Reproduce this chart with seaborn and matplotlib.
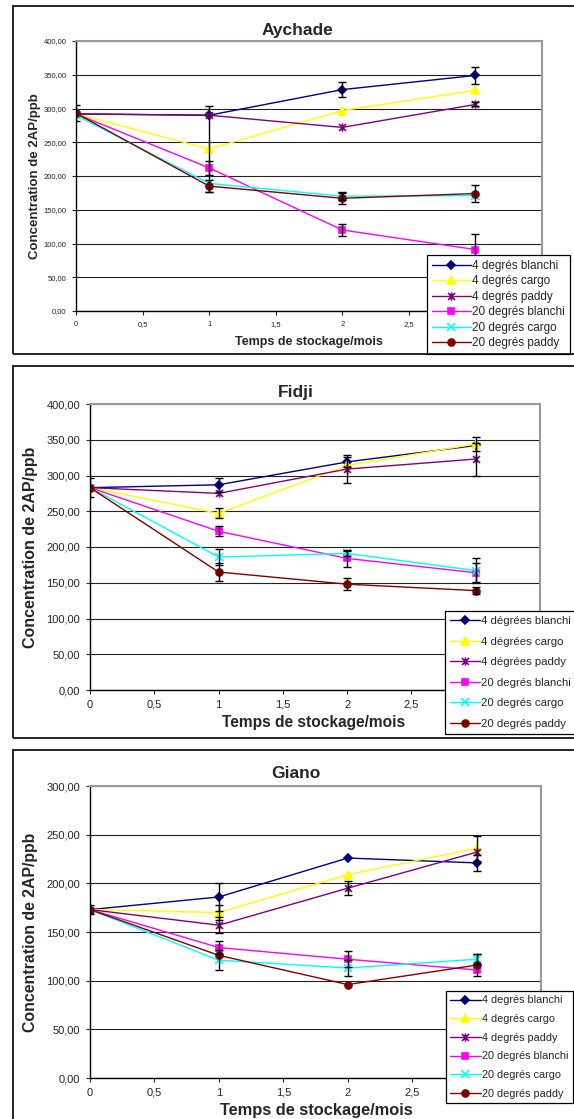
import numpy as np
import pandas as pd
import seaborn as sns
import matplotlib.pyplot as plt
from matplotlib.patches import Rectangle
from matplotlib.path import Path
from matplotlib.ticker import FuncFormatter

months = [0, 1, 2, 3]

labels_std = ["4 degrés blanchi", "4 degrés cargo", "4 degrés paddy",
              "20 degrés blanchi", "20 degrés cargo", "20 degrés paddy"]
labels_fidji = ["4 dégrées blanchi", "4 dégrées cargo", "4 dégrées paddy",
                "20 degrés blanchi", "20 degrés cargo", "20 degrés paddy"]

# series order: 4 blanchi, 4 cargo, 4 paddy, 20 blanchi, 20 cargo, 20 paddy
aychade_vals = [[292, 290, 328, 349], [292, 240, 297, 327], [292, 290, 272, 306],
                [292, 212, 120, 91], [290, 189, 170, 171], [293, 185, 167, 174]]
aychade_err = [[0, 0, 11, 13], [0, 63, 0, 0], [0, 0, 0, 3],
               [0, 10, 9, 23], [0, 0, 6, 0], [12, 9, 8, 13]]

fidji_vals = [[283, 287, 319, 342], [283, 247, 314, 344], [283, 275, 309, 323],
              [283, 222, 184, 164], [283, 186, 191, 167], [283, 165, 148, 139]]
fidji_err = [[0, 10, 7, 0], [0, 7, 0, 10], [0, 0, 19, 23],
             [0, 7, 12, 13], [0, 11, 4, 17], [13, 12, 8, 5]]

giano_vals = [[173, 186, 226, 221], [173, 170, 209, 236], [173, 157, 195, 232],
              [173, 134, 122, 111], [173, 121, 113, 122], [173, 126, 96, 116]]
giano_err = [[0, 14, 0, 8], [0, 8, 0, 13], [0, 8, 7, 0],
             [0, 7, 8, 0], [0, 10, 8, 5], [5, 0, 0, 11]]

# excel-like star: an x with a vertical bar
star = Path([(-1, -1), (1, 1), (-1, 1), (1, -1), (0, -1.2), (0, 1.2)],
            [Path.MOVETO, Path.LINETO, Path.MOVETO, Path.LINETO, Path.MOVETO, Path.LINETO])

colors = ["#000080", "#FFFF00", "#800080", "#FF00FF", "#00FFFF", "#800000"]
markers = ["D", "^", star, "s", "x", "o"]
msizes = [4, 6, 6, 5, 6, 5]

sns.set_style("ticks")
plt.rcParams['font.family'] = ['Liberation Sans', 'DejaVu Sans']

W, H = 574, 1119
fig = plt.figure(figsize=(W / 100, H / 100), dpi=100)


def px_axes(l, t, r, b):
    return fig.add_axes([l / W, 1 - b / H, (r - l) / W, (b - t) / H])


def comma(v, pos):
    return ("%.2f" % v).replace(".", ",")


def xcomma(v, pos):
    return ("%g" % v).replace(".", ",")


def panel(box, axbox, title, vals, errs, labels, ymax, fs, title_xy, title_fs,
          ylab_x, ylab_fs, xlab_xy, xlab_fs, leg_xy, leg_fs, leg_sp, leg_pad, leg_hl):
    # outer frame
    bl, bt, br, bb = box
    fig.patches.append(Rectangle((bl / W, 1 - bb / H), (br - bl) / W, (bb - bt) / H,
                                 transform=fig.transFigure, fill=False,
                                 edgecolor="black", linewidth=1.2))
    ax = px_axes(*axbox)
    for k in range(6):
        sns.lineplot(x=months, y=vals[k], ax=ax, color=colors[k], marker=markers[k],
                     markersize=msizes[k], markeredgecolor=colors[k],
                     markeredgewidth=1.2, linewidth=1.0, label=labels[k], zorder=3)
        e = np.array(errs[k])
        m = e > 0
        if m.any():
            ax.errorbar(np.array(months)[m], np.array(vals[k])[m], yerr=e[m],
                        fmt="none", ecolor="black", elinewidth=1.0, capsize=3,
                        capthick=1.0, zorder=4)
    ax.set_xlim(0, 3.5)
    ax.set_ylim(0, ymax)
    ax.set_xticks(np.arange(0, 3.51, 0.5))
    ax.set_yticks(np.arange(0, ymax + 1, 50))
    ax.yaxis.set_major_formatter(FuncFormatter(comma))
    ax.xaxis.set_major_formatter(FuncFormatter(xcomma))
    ax.tick_params(labelsize=fs, length=3, width=0.8, direction="out", pad=4)
    ax.grid(axis="y", color="#222222", linewidth=0.8)
    ax.set_axisbelow(True)
    for s in ["top", "right"]:
        ax.spines[s].set_visible(True)
        ax.spines[s].set_color("#999999")
        ax.spines[s].set_linewidth(1.5)
    for s in ["left", "bottom"]:
        ax.spines[s].set_color("black")
        ax.spines[s].set_linewidth(1.0)
    ax.set_xlabel("")
    ax.set_ylabel("")
    l, t, r, b = axbox
    fig.text(title_xy[0] / W, 1 - title_xy[1] / H, title, ha="center", va="center",
             fontsize=title_fs, fontweight="bold")
    fig.text(ylab_x / W, 1 - (t + b) / 2 / H, "Concentration de 2AP/ppb", ha="center",
             va="center", rotation=90, fontsize=ylab_fs, fontweight="bold")
    fig.text(xlab_xy[0] / W, 1 - xlab_xy[1] / H, "Temps de stockage/mois", ha="center",
             va="center", fontsize=xlab_fs, fontweight="bold")
    leg = ax.legend(loc="upper left", bbox_to_anchor=(leg_xy[0] / W, 1 - leg_xy[1] / H),
                    bbox_transform=fig.transFigure, fontsize=leg_fs, frameon=True,
                    fancybox=False, edgecolor="black", framealpha=1, handlelength=leg_hl,
                    handletextpad=0.15, labelspacing=leg_sp, borderpad=leg_pad,
                    borderaxespad=0)
    leg.get_frame().set_linewidth(0.9)
    leg.set_zorder(10)
    return ax


panel((13, 6, 590, 354), (76, 41, 542, 311), "Aychade", aychade_vals, aychade_err,
      labels_std, 400, 5.5, (297, 30), 12.5, 35, 9.5, (309, 342), 9,
      (427, 255), 8.5, 0.3, 0.4, 3.3)
panel((13, 366, 590, 738), (90, 404, 540, 690), "Fidji", fidji_vals, fidji_err,
      labels_fidji, 400, 8, (296, 392), 12.5, 31, 11.5, (314, 723), 11.2,
      (445, 611), 8.2, 0.92, 0.45, 2.6)
panel((13, 750, 590, 1130), (90, 786, 541, 1078), "Giano", giano_vals, giano_err,
      labels_std, 300, 8, (296, 773), 12.5, 31, 11.4, (316, 1110), 11.8,
      (446, 991), 7.8, 0.8, 0.4, 2.8)

fig.savefig("out.png", dpi=100)
